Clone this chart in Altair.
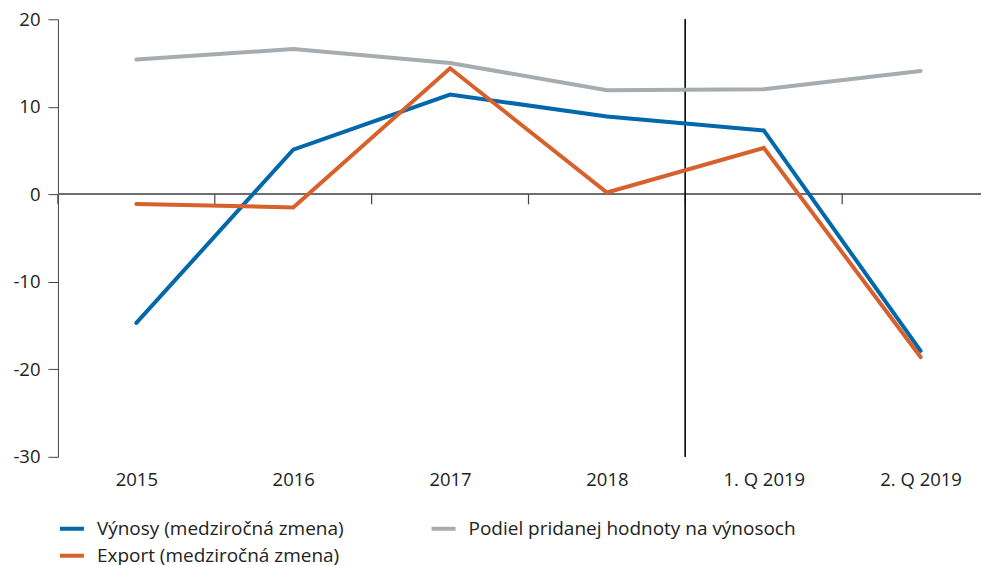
import altair as alt
import pandas as pd

categories = ["2015", "2016", "2017", "2018", "1. Q 2019", "2. Q 2019"]
vynosy = [-14.7, 5.1, 11.4, 8.9, 7.3, -17.9]
export = [-1.1, -1.5, 14.4, 0.2, 5.3, -18.6]
podiel = [15.4, 16.6, 15.0, 11.9, 12.0, 14.1]

series_names = [
    "Výnosy (medziročná zmena)",
    "Export (medziročná zmena)",
    "Podiel pridanej hodnoty na výnosoch",
]
colors = ["#0068ab", "#d8602b", "#a6acaf"]
y_ticks = [-30, -20, -10, 0, 10, 20]
boundaries = [-0.5, 0.5, 1.5, 2.5, 3.5, 4.5]
divider_at = 3.5

FONT = "Open Sans"

rows = []
for i, c in enumerate(categories):
    rows.append({"idx": i, "series": series_names[2], "value": podiel[i]})
    rows.append({"idx": i, "series": series_names[0], "value": vynosy[i]})
    rows.append({"idx": i, "series": series_names[1], "value": export[i]})
df = pd.DataFrame(rows)
bdf = pd.DataFrame({"b": boundaries})

label_js = "[" + ",".join("'" + c + "'" for c in categories) + "][datum.value]"

xscale = alt.Scale(domain=[-0.5, 5.385], nice=False, zero=False)
yscale = alt.Scale(domain=[-30, 20], nice=False)

lines = alt.Chart(df).mark_line(strokeWidth=4, strokeCap="round", strokeJoin="miter").encode(
    x=alt.X("idx:Q", scale=xscale, title=None,
            axis=alt.Axis(values=list(range(len(categories))), labelExpr=label_js,
                          grid=False, domain=False, ticks=False, labelPadding=14,
                          labelFontSize=18.5, labelColor="#222", title=None,
                          labelFont=FONT)),
    y=alt.Y("value:Q", scale=yscale, title=None,
            axis=alt.Axis(values=y_ticks, grid=False, tickSize=10, labelPadding=8,
                          labelExpr="datum.value + ''",
                          domainColor="#444", tickColor="#444", title=None,
                          labelFontSize=18.5, labelColor="#222", minExtent=50, maxExtent=50,
                          labelFont=FONT)),
    color=alt.Color("series:N", scale=alt.Scale(domain=series_names, range=colors),
                    sort=series_names,
                    legend=alt.Legend(title=None, orient="none", legendX=0, legendY=496,
                                      columns=2, columnPadding=79, rowPadding=3,
                                      symbolType="stroke", symbolSize=576,
                                      symbolStrokeWidth=4, labelFontSize=19,
                                      labelOffset=11, labelLimit=600, labelColor="#222",
                                      labelFont=FONT)),
)

zero_line = alt.Chart(bdf).mark_rule(color="#6d6d6d", strokeWidth=1.5).encode(
    y=alt.YDatum(0, type="quantitative", scale=yscale, title=None)
)

bticks = alt.Chart(bdf).mark_rule(color="#444", strokeWidth=1.2).encode(
    x=alt.X("b:Q", scale=xscale, title=None),
    y=alt.YDatum(0, type="quantitative", title=None),
    y2=alt.Y2Datum(-1.15),
)

divider = alt.Chart(bdf).mark_rule(color="#111", strokeWidth=1).encode(
    x=alt.XDatum(divider_at, type="quantitative", title=None)
)

chart = alt.layer(zero_line, bticks, divider, lines).properties(
    width=924, height=438,
    padding={"left": 0, "top": 2, "right": 0, "bottom": 0},
).configure(font=FONT).configure_view(stroke=None)

chart.save("out.html", embed_options={"renderer": "svg", "actions": False})
